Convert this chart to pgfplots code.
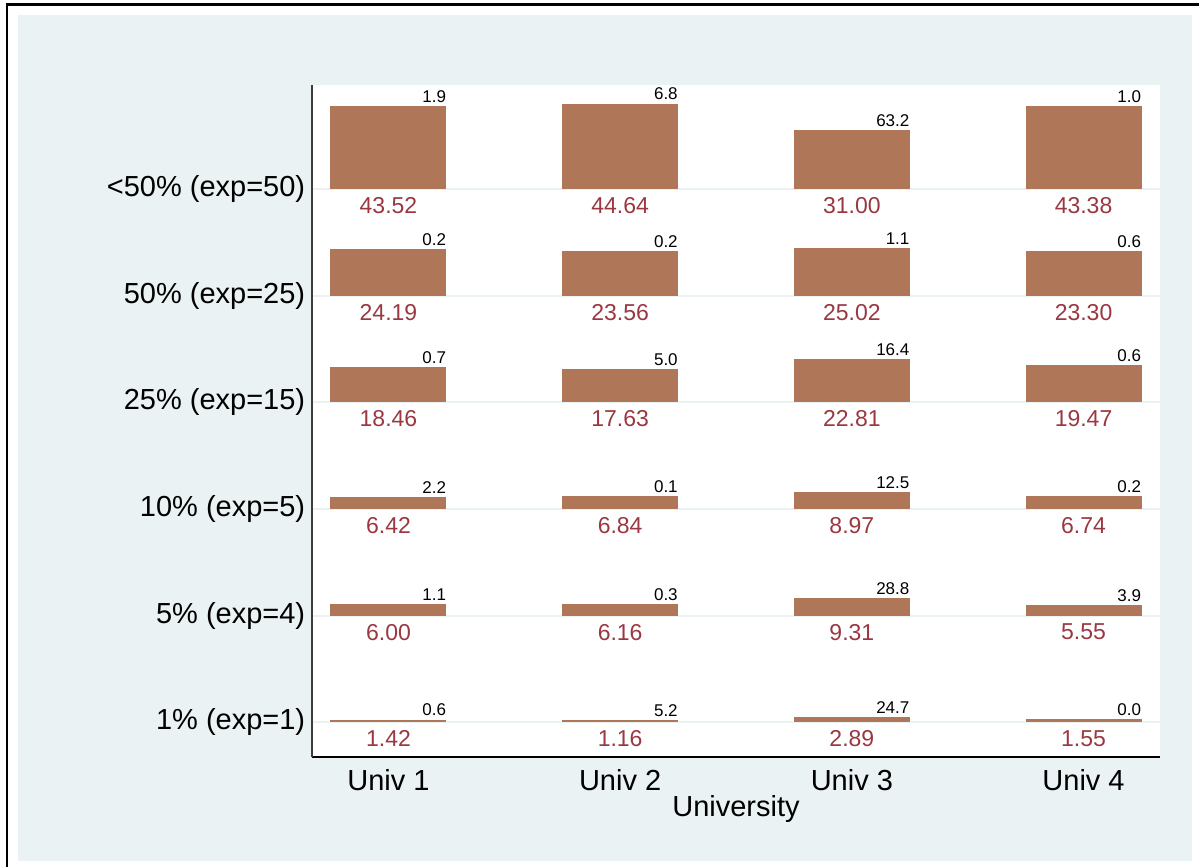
\documentclass[border=0pt]{standalone}
\usepackage{fontspec}
\setmainfont{Liberation Sans}
\usepackage{pgfplots}
\usepackage{pgfplotstable}
\pgfplotsset{compat=1.18}

\definecolor{regionbg}{RGB}{234,242,243}
\definecolor{barfill}{RGB}{176,118,88}
\definecolor{cranb}{RGB}{154,56,66}
\definecolor{yaxc}{RGB}{60,60,60}

% univ, row base, observed share, chi2 contribution
\pgfplotstableread{
x  base   v      c
1  0      1.42   0.6
2  0      1.16   5.2
3  0      2.89   24.7
4  0      1.55   0.0
1  55.5   6.00   1.1
2  55.5   6.16   0.3
3  55.5   9.31   28.8
4  55.5   5.55   3.9
1  111    6.42   2.2
2  111    6.84   0.1
3  111    8.97   12.5
4  111    6.74   0.2
1  166.5  18.46  0.7
2  166.5  17.63  5.0
3  166.5  22.81  16.4
4  166.5  19.47  0.6
1  222    24.19  0.2
2  222    23.56  0.2
3  222    25.02  1.1
4  222    23.30  0.6
1  277.5  43.52  1.9
2  277.5  44.64  6.8
3  277.5  31.00  63.2
4  277.5  43.38  1.0
}\shares

\begin{document}
\begin{tikzpicture}
  \path[use as bounding box, fill=white] (0,0) rectangle (599.5pt,-433.5pt);
  \fill[regionbg] (9pt,-7.5pt) rectangle (596pt,-430.5pt);
  \draw[line width=1.2pt] (3pt,-2.25pt) -- (599.5pt,-2.25pt);
  \draw[line width=1.2pt] (3.5pt,-2pt) -- (3.5pt,-433.5pt);
  \begin{axis}[
    at={(156pt,-378.5pt)}, anchor=south west,
    scale only axis, width=424pt, height=336pt,
    xmin=0.67, xmax=4.33, ymin=-18.1, ymax=331.8,
    axis background/.style={fill=white},
    axis x line*=bottom, axis y line*=left,
    x axis line style={-, line width=0.75pt, black},
    y axis line style={-, line width=0.75pt, yaxc},
    major tick length=0pt,
    xtick={1,2,3,4},
    xticklabels={Univ 1,Univ 2,Univ 3,Univ 4},
    ytick={0,55.5,111,166.5,222,277.5},
    yticklabels={1\% (exp=1),5\% (exp=4),10\% (exp=5),
      25\% (exp=15),50\% (exp=25),<50\% (exp=50)},
    ymajorgrids, grid style={regionbg, line width=1pt},
    xticklabel style={font=\fontsize{14.5}{16}\selectfont, inner sep=0pt,
      anchor=north, yshift=-6pt},
    yticklabel style={font=\fontsize{14.5}{16}\selectfont, inner sep=0pt,
      anchor=east, xshift=-3.2pt},
    xlabel={University},
    xlabel style={font=\fontsize{14.5}{16}\selectfont, inner sep=0pt,
      at={(axis description cs:0.5,0)}, anchor=north, yshift=-19pt},
  ]
    % bars: from row base up by the value
    \addplot[draw=none, mark=none,
      error bars/.cd, y dir=plus, y explicit, error mark=none,
      error bar style={draw=barfill, line width=58pt}]
      table[x=x, y=base, y error=v] {\shares};
    % observed values under the bars
    \addplot[draw=none, mark=none, point meta=explicit,
      nodes near coords={\pgfmathprintnumber[fixed, fixed zerofill,
        precision=2, assume math mode=true]{\pgfplotspointmeta}},
      nodes near coords style={anchor=center, yshift=-8.25pt, inner sep=0pt,
        text=cranb, font=\fontsize{11.5}{13}\selectfont}]
      table[x=x, y=base, meta=v] {\shares};
    % chi2 contributions at the top right of each bar
    \addplot[draw=none, mark=none, point meta=explicit,
      nodes near coords={\pgfmathprintnumber[fixed, fixed zerofill,
        precision=1, assume math mode=true]{\pgfplotspointmeta}},
      nodes near coords style={anchor=south east, yshift=1.5pt, inner sep=0pt,
        text=black, font=\fontsize{8.5}{10}\selectfont}]
      table[x expr=\thisrow{x}+0.25, y expr=\thisrow{base}+\thisrow{v},
        meta=c] {\shares};
  \end{axis}
\end{tikzpicture}
\end{document}
